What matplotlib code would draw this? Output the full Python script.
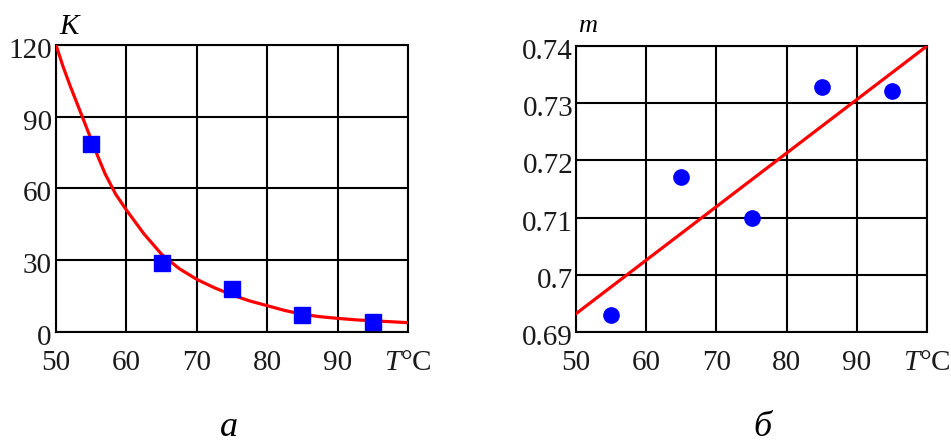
import matplotlib
matplotlib.use("Agg")
import matplotlib.pyplot as plt
from matplotlib.transforms import ScaledTranslation

plt.rcParams['font.family'] = ['Liberation Serif', 'DejaVu Serif']
plt.rcParams['mathtext.fontset'] = 'custom'
plt.rcParams['mathtext.rm'] = 'Liberation Serif'
plt.rcParams['mathtext.it'] = 'Liberation Serif:italic'

# panel a: K vs T
T_pts = [55, 65, 75, 85, 95]
K_pts = [78.7, 28.8, 18.0, 7.2, 4.0]
T_fit = [50, 51, 52, 53, 54, 55, 56, 57, 58.5, 60, 62.5, 65, 67.5, 70,
         72.5, 75, 77.5, 80, 82.5, 85, 87.5, 90, 92.5, 95, 97.5, 100]
K_fit = [120, 111, 103, 95.5, 88, 80.5, 73, 66, 57.5, 51, 41, 32.5, 26.5, 22,
         18.5, 15.5, 13, 11, 9, 7.4, 6.4, 5.7, 5.1, 4.7, 4.3, 3.9]

# panel b: m vs T
m_pts = [0.6929, 0.7171, 0.7100, 0.7329, 0.7321]
T_line = [50, 100]
m_line = [0.6932, 0.7400]

x_ticks = [50, 60, 70, 80, 90, 100]
x_labels = ['50', '60', '70', '80', '90', r'$T$°C']
K_ticks = [0, 30, 60, 90, 120]
m_ticks = [0.69, 0.70, 0.71, 0.72, 0.73, 0.74]
m_labels = ['0.69', '0.7', '0.71', '0.72', '0.73', '0.74']

W, H = 951, 443
fig = plt.figure(figsize=(W / 100, H / 100), dpi=100)
ax1 = fig.add_axes([56 / W, 1 - 332 / H, (408 - 56) / W, (332 - 45) / H])
ax2 = fig.add_axes([576 / W, 1 - 332 / H, (927 - 576) / W, (332 - 46) / H])

tick_color = '#1a1a1a'
fs = 21

def style(ax, yticks, ylabels, ypad):
    ax.set_xlim(50, 100)
    ax.set_xticks(x_ticks)
    ax.set_xticklabels(x_labels)
    ax.set_yticks(yticks)
    ax.set_yticklabels(ylabels)
    ax.grid(True, color='black', linewidth=1.5)
    ax.set_axisbelow(True)
    for s in ax.spines.values():
        s.set_linewidth(1.5)
    ax.tick_params(length=0, labelsize=fs, colors=tick_color)
    ax.tick_params(axis='x', pad=13)
    ax.tick_params(axis='y', pad=ypad)
    off = ScaledTranslation(0, -3 / 100, fig.dpi_scale_trans)
    for lab in ax.get_yticklabels():
        lab.set_transform(lab.get_transform() + off)

ax1.plot(T_fit, K_fit, color='#ff0000', linewidth=2.3, zorder=3)
ax1.plot(T_pts, K_pts, 's', color='#0000ff', markersize=11, zorder=4)
ax1.set_ylim(0, 120)
style(ax1, K_ticks, [str(v) for v in K_ticks], 3)

ax2.plot(T_line, m_line, color='#ff0000', linewidth=2.3, zorder=3)
ax2.plot(T_pts, m_pts, 'o', color='#0000ff', markersize=11, zorder=4)
ax2.set_ylim(0.69, 0.74)
style(ax2, m_ticks, m_labels, 2)

fig.text(69 / W, 1 - 27 / H, 'K', fontsize=21, style='italic', ha='center', va='center')
fig.text(588 / W, 1 - 26 / H, 'm', fontsize=19, style='italic', ha='center', va='center')

fig.text(229 / W, 1 - 436 / H, 'а', fontsize=26, style='italic', ha='center', va='baseline')
fig.text(762 / W, 1 - 436 / H, 'б', fontsize=26, style='italic', ha='center', va='baseline')

fig.savefig('out.png', dpi=100)
